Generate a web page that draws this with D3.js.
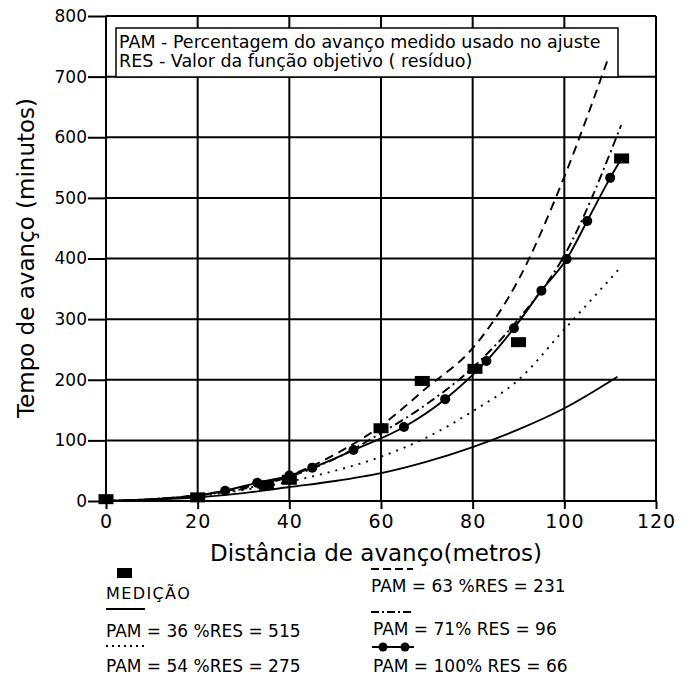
<!DOCTYPE html>
<html>
<head>
<meta charset="utf-8">
<script src="https://cdn.jsdelivr.net/npm/d3@7"></script>
<style>
  html, body { margin: 0; padding: 0; background: #fff; }
  svg text { font-family: "DejaVu Sans", sans-serif; fill: #000; }
</style>
</head>
<body>
<div id="chart"></div>
<script>
const xTicks = [0, 20, 40, 60, 80, 100, 120];
const yTicks = [0, 100, 200, 300, 400, 500, 600, 700, 800];

// measured advance (squares)
const medicao = [[0, 3], [20, 6], [35, 26], [40, 35], [60, 120], [69, 198], [80.5, 218], [90, 262], [112.5, 565]];

// fitted curves
const pam36 = [[0, 0], [10, 2], [20, 6], [30, 13], [40, 23], [50, 33], [60, 46], [70, 65], [80, 89], [90, 118], [100, 153], [111.6, 205]];
const pam54 = [[0, 0], [10, 3], [20, 8], [30, 18], [40, 32], [50, 50], [60, 73], [70, 105], [80, 148], [90, 200], [100, 283], [112.6, 388]];
const pam63 = [[0, 0], [10, 3], [20, 10], [30, 22], [40, 42], [50, 77], [60, 124], [70, 187], [80, 252], [90, 365], [100, 535], [109.6, 731]];
const pam71 = [[0, 0], [10, 3], [20, 9], [30, 20], [40, 40], [50, 70], [60, 112], [70, 160], [80, 220], [90, 300], [100, 405], [112.4, 620]];
const pam100Pts = [[26, 17], [33, 30], [40, 42], [45, 55], [54, 84], [65, 122], [74, 168], [83, 231], [89, 285], [95, 347], [100.5, 399], [105, 462], [110, 533]];
const pam100 = [[0, 0], [10, 3], [20, 9]].concat(pam100Pts, [[112.5, 565]]);

const noteLines = [
    "PAM - Percentagem do avanço medido usado no ajuste",
    "RES - Valor da função objetivo ( resíduo)"
];

function renderChart(selector = "#chart") {
    const container = d3.select(selector);
    container.html("");

    const width = 692;
    const height = 677;

    const svg = container.append("svg")
        .attr("width", width)
        .attr("height", height)
        .style("display", "block");

    const x = d3.scaleLinear().domain([0, 120]).range([106, 656]);
    const y = d3.scaleLinear().domain([0, 800]).range([501, 16]);

    // grid
    const grid = svg.append("g").attr("stroke", "#000").attr("stroke-width", 2);
    grid.selectAll("line.v")
        .data(xTicks)
        .join("line")
        .attr("class", "v")
        .attr("x1", d => x(d)).attr("x2", d => x(d))
        .attr("y1", y(800)).attr("y2", y(0));
    grid.selectAll("line.h")
        .data(yTicks)
        .join("line")
        .attr("class", "h")
        .attr("x1", x(0)).attr("x2", x(120))
        .attr("y1", d => y(d)).attr("y2", d => y(d));

    // axes
    const xAxis = svg.append("g")
        .attr("transform", `translate(0,${y(0)})`)
        .call(d3.axisBottom(x).tickValues(xTicks).tickSize(8).tickPadding(6).tickFormat(d3.format("d")));
    xAxis.select(".domain").remove();
    xAxis.selectAll("line").attr("stroke", "#000").attr("stroke-width", 2);
    xAxis.selectAll("text")
        .attr("font-size", 19)
        .attr("font-family", "DejaVu Sans")
        .attr("letter-spacing", 1);

    const yAxis = svg.append("g")
        .attr("transform", `translate(${x(0)},0)`)
        .call(d3.axisLeft(y).tickValues(yTicks).tickSize(18).tickPadding(1).tickFormat(d3.format("d")));
    yAxis.select(".domain").remove();
    yAxis.selectAll("line").attr("stroke", "#000").attr("stroke-width", 2);
    yAxis.selectAll("text")
        .attr("font-size", 17)
        .attr("font-family", "DejaVu Sans");

    // axis titles
    svg.append("text")
        .attr("x", 376)
        .attr("y", 561)
        .attr("text-anchor", "middle")
        .attr("font-size", 23)
        .text("Distância de avanço(metros)");

    svg.append("text")
        .attr("transform", "translate(34,258) rotate(-90)")
        .attr("text-anchor", "middle")
        .attr("font-size", 23)
        .text("Tempo de avanço (minutos)");

    // note box
    svg.append("rect")
        .attr("x", 116).attr("y", 28)
        .attr("width", 502).attr("height", 49)
        .attr("fill", "#fff")
        .attr("stroke", "#000")
        .attr("stroke-width", 1.5);
    svg.selectAll("text.note")
        .data(noteLines)
        .join("text")
        .attr("class", "note")
        .attr("x", 119)
        .attr("y", (d, i) => 48 + i * 19)
        .attr("font-size", 17.5)
        .text(d => d);

    // curves
    const line = d3.line()
        .x(d => x(d[0]))
        .y(d => y(d[1]))
        .curve(d3.curveMonotoneX);

    const series = [
        { data: pam36, dash: null },
        { data: pam54, dash: "2,6" },
        { data: pam63, dash: "9,6" },
        { data: pam71, dash: "9,4,2,4" },
        { data: pam100, dash: null }
    ];

    svg.append("g")
        .attr("fill", "none")
        .attr("stroke", "#000")
        .attr("stroke-width", 1.9)
        .selectAll("path")
        .data(series)
        .join("path")
        .attr("d", d => line(d.data))
        .attr("stroke-dasharray", d => d.dash);

    svg.append("g")
        .selectAll("circle")
        .data(pam100Pts)
        .join("circle")
        .attr("cx", d => x(d[0]))
        .attr("cy", d => y(d[1]))
        .attr("r", 5)
        .attr("fill", "#000");

    svg.append("g")
        .selectAll("rect")
        .data(medicao)
        .join("rect")
        .attr("x", d => x(d[0]) - 7.5)
        .attr("y", d => y(d[1]) - 5)
        .attr("width", 15)
        .attr("height", 10)
        .attr("fill", "#000");

    // legend
    const lg = svg.append("g");
    lg.append("rect").attr("x", 117).attr("y", 568).attr("width", 15).attr("height", 10).attr("fill", "#000");
    lg.append("text").attr("x", 106).attr("y", 599).attr("font-size", 16).attr("letter-spacing", 1.4).text("MEDIÇÃO");
    lg.append("line").attr("x1", 106).attr("x2", 145).attr("y1", 609).attr("y2", 609)
        .attr("stroke", "#000").attr("stroke-width", 1.9);
    lg.append("text").attr("x", 106).attr("y", 637).attr("font-size", 17).text("PAM = 36 %RES = 515");
    lg.append("line").attr("x1", 106).attr("x2", 145).attr("y1", 646).attr("y2", 646)
        .attr("stroke", "#000").attr("stroke-width", 1.9).attr("stroke-dasharray", "2,4");
    lg.append("text").attr("x", 106).attr("y", 672).attr("font-size", 17).text("PAM = 54 %RES = 275");

    lg.append("line").attr("x1", 371).attr("x2", 413).attr("y1", 569).attr("y2", 569)
        .attr("stroke", "#000").attr("stroke-width", 1.9).attr("stroke-dasharray", "8,4");
    lg.append("text").attr("x", 371).attr("y", 592).attr("font-size", 17).text("PAM = 63 %RES = 231");
    lg.append("line").attr("x1", 371).attr("x2", 413).attr("y1", 612).attr("y2", 612)
        .attr("stroke", "#000").attr("stroke-width", 1.9).attr("stroke-dasharray", "8,3,2,3");
    lg.append("text").attr("x", 373).attr("y", 635).attr("font-size", 17).text("PAM = 71% RES = 96");
    lg.append("line").attr("x1", 372).attr("x2", 414).attr("y1", 647).attr("y2", 647)
        .attr("stroke", "#000").attr("stroke-width", 1.9);
    lg.selectAll("circle")
        .data([383, 405])
        .join("circle")
        .attr("cx", d => d).attr("cy", 647).attr("r", 4.5).attr("fill", "#000");
    lg.append("text").attr("x", 373).attr("y", 672).attr("font-size", 17).text("PAM = 100% RES = 66");
}

renderChart();
</script>
</body>
</html>
